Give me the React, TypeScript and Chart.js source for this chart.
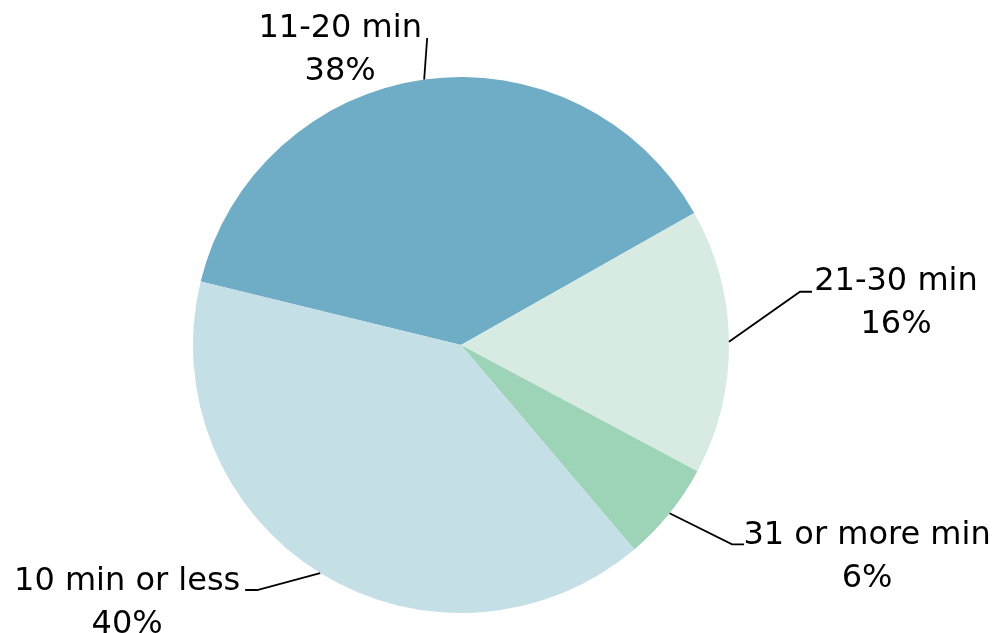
import React, { useEffect, useRef } from "react";
import { Chart, registerables } from "chart.js";

Chart.register(...registerables);

const categories = ["11-20 min", "21-30 min", "31 or more min", "10 min or less"];
const values = [38, 16, 6, 40];
const valueLabels = ["38%", "16%", "6%", "40%"];
const colors = ["#6FADC7", "#D7EBE2", "#9DD3B7", "#C5DFE7"];

// leader-line elbows and text anchor, relative to slice's outer mid-point
const labelLayout = [
  { pts: [[3, -41.5]], text: [-84, -42.5] },
  { pts: [[71, -50], [83, -50]], text: [167, -52] },
  { pts: [[62.5, 31], [74.5, 31]], text: [197.5, 31] },
  { pts: [[-63, 17], [-75, 17]], text: [-193, 17] },
];

const labelPlugin = {
  id: "pieLabels",
  afterDatasetsDraw(chart: any) {
    const ctx = chart.ctx;
    const meta = chart.getDatasetMeta(0);
    ctx.save();
    ctx.strokeStyle = "#000";
    ctx.lineWidth = 1.8;
    ctx.fillStyle = "#000";
    ctx.font = "32px 'DejaVu Sans'";
    ctx.textAlign = "center";
    ctx.textBaseline = "alphabetic";
    meta.data.forEach((arc: any, i: number) => {
      const p = arc.getProps(["x", "y", "startAngle", "endAngle", "outerRadius"], true);
      const mid = (p.startAngle + p.endAngle) / 2;
      const ex = p.x + Math.cos(mid) * p.outerRadius;
      const ey = p.y + Math.sin(mid) * p.outerRadius;
      const lay = labelLayout[i];
      ctx.beginPath();
      ctx.moveTo(ex, ey);
      lay.pts.forEach((q) => ctx.lineTo(ex + q[0], ey + q[1]));
      ctx.stroke();
      const tx = ex + lay.text[0];
      const ty = ey + lay.text[1];
      ctx.fillText(categories[i], tx, ty);
      ctx.fillText(valueLabels[i], tx, ty + 43);
    });
    ctx.restore();
  },
};

export default function App() {
  const ref = useRef<HTMLCanvasElement>(null);
  useEffect(() => {
    const chart = new Chart(ref.current as HTMLCanvasElement, {
      type: "pie",
      data: {
        labels: categories,
        datasets: [
          {
            data: values,
            backgroundColor: colors,
            borderWidth: 0,
          },
        ],
      },
      options: {
        responsive: false,
        animation: false,
        rotation: -76.3,
        layout: { padding: { left: 193, right: 267, top: 77, bottom: 20 } },
        plugins: { legend: { display: false }, tooltip: { enabled: false } },
      },
      plugins: [labelPlugin],
    } as any);
    return () => chart.destroy();
  }, []);
  return (
    <div style={{ position: "fixed", left: 0, top: 0, width: 996, height: 633, background: "#fff" }}>
      <canvas ref={ref} width={996} height={633} style={{ width: 996, height: 633 }} />
    </div>
  );
}
